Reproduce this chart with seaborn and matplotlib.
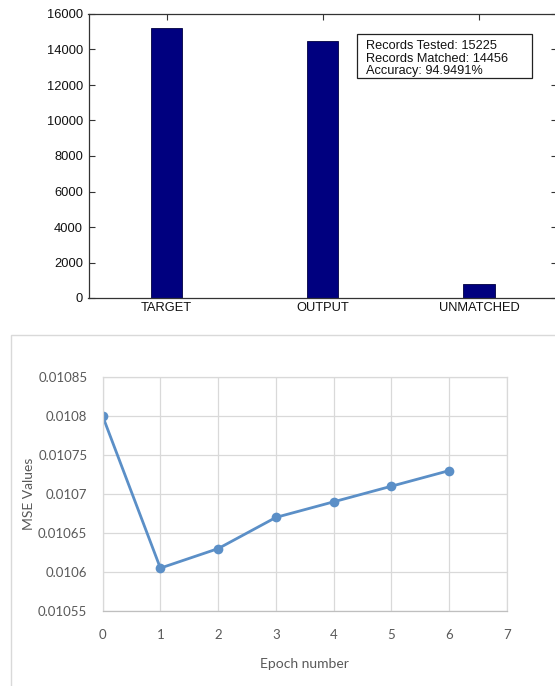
import matplotlib
matplotlib.use("Agg")
import matplotlib.pyplot as plt
import matplotlib.patches as mpatches
import seaborn as sns
import pandas as pd

# Record comparison
bar_labels = ["TARGET", "OUTPUT", "UNMATCHED"]
bar_values = [15225, 14456, 769]
bar_yticks = [0, 2000, 4000, 6000, 8000, 10000, 12000, 14000, 16000]
summary_lines = ["Records Tested: 15225", "Records Matched: 14456", "Accuracy: 94.9491%"]

# Training error per epoch
epochs = [0, 1, 2, 3, 4, 5, 6]
mse_values = [0.01080, 0.010605, 0.01063, 0.01067, 0.01069, 0.01071, 0.01073]
mse_yticks = [0.01055, 0.0106, 0.01065, 0.0107, 0.01075, 0.0108, 0.01085]
mse_yticklabels = ["0.01055", "0.0106", "0.01065", "0.0107", "0.01075", "0.0108", "0.01085"]
epoch_ticks = [0, 1, 2, 3, 4, 5, 6, 7]

sns.set_theme(style="white")
plt.rcParams["font.family"] = ["Liberation Sans", "DejaVu Sans"]

W, H = 555, 686
fig = plt.figure(figsize=(W / 100, H / 100), dpi=100)
fig.patch.set_facecolor("white")


def box(x0, y0, x1, y1):
    return [x0 / W, 1 - y1 / H, (x1 - x0) / W, (y1 - y0) / H]


# ---------------- top panel: bar chart ----------------
ax1 = fig.add_axes(box(88.5, 14, 557, 298))
bars_df = pd.DataFrame({"label": bar_labels, "count": bar_values})
sns.barplot(data=bars_df, x="label", y="count", color="#00007f", width=0.2,
            saturation=1, edgecolor="#000040", linewidth=0.6, ax=ax1)
ax1.set_xlim(-0.5, 2.5)
ax1.set_ylim(0, 16000)
ax1.set_yticks(bar_yticks)
ax1.set_xlabel("")
ax1.set_ylabel("")
for s in ax1.spines.values():
    s.set_color("#333333")
    s.set_linewidth(0.9)
ax1.tick_params(axis="both", direction="in", length=4, width=0.8, color="#333333",
                labelsize=9.3, labelcolor="#111111",
                top=True, right=True, bottom=True, left=True)
ax1.tick_params(axis="y", pad=4)
ax1.tick_params(axis="x", pad=3)

# summary box in the upper right
ax1.add_patch(mpatches.Rectangle((0.5731, 0.7764), 0.9466 - 0.5731, 0.9296 - 0.7764,
                                 transform=ax1.transAxes, fill=True, fc="white",
                                 ec="#222222", lw=0.9, zorder=5))
for line, yy in zip(summary_lines, [0.8873, 0.8433, 0.7993]):
    ax1.text(0.5923, yy, line, transform=ax1.transAxes, fontsize=9.2,
             color="#111111", va="center", ha="left", zorder=6)

# ---------------- bottom panel: MSE line chart ----------------
frame = mpatches.Rectangle((10.5 / W, -0.01), 1, 1.01 - 335 / H, transform=fig.transFigure,
                           fill=False, ec="#d9d9d9", lw=1.0)
fig.add_artist(frame)

ax2 = fig.add_axes(box(102.6, 377, 507, 611))
mse_df = pd.DataFrame({"epoch": epochs, "mse": mse_values})
sns.lineplot(data=mse_df, x="epoch", y="mse", color="#5b8fc7", linewidth=2,
             marker="o", markersize=7, markeredgewidth=0, ax=ax2)
ax2.set_xlim(0, 7)
ax2.set_ylim(0.01055, 0.01085)
ax2.set_xticks(epoch_ticks)
ax2.set_yticks(mse_yticks)
ax2.set_yticklabels(mse_yticklabels)
ax2.grid(True, color="#d9d9d9", linewidth=0.9)
ax2.set_axisbelow(True)
for name, s in ax2.spines.items():
    s.set_color("#d9d9d9")
    s.set_linewidth(0.9)
ax2.spines["bottom"].set_color("#bfbfbf")
ax2.tick_params(axis="both", length=0, labelsize=9.5, labelcolor="#595959")
ax2.tick_params(axis="y", pad=11)
ax2.tick_params(axis="x", pad=13)
for lab in ax2.get_xticklabels() + ax2.get_yticklabels():
    lab.set_family(["Lato", "DejaVu Sans"])
ax2.set_xlabel("Epoch number", fontsize=10, color="#595959", family=["Lato", "DejaVu Sans"],
               labelpad=12)
ax2.set_ylabel("MSE Values", fontsize=10, color="#595959", family=["Lato", "DejaVu Sans"],
               labelpad=2)

fig.savefig("out.png", dpi=100)
